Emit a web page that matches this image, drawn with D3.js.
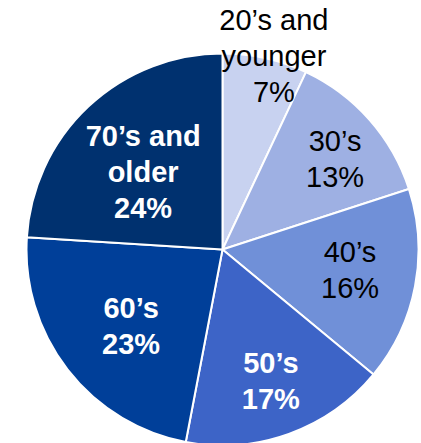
<!DOCTYPE html>
<html>
<head>
<meta charset="utf-8">
<script src="https://cdn.jsdelivr.net/npm/d3@7"></script>
<style>
  html, body { margin: 0; padding: 0; background: #fff; }
  svg { display: block; }
</style>
</head>
<body>
<svg id="chart" width="421" height="443"></svg>
<script>
const categories = ["20\u2019s and younger", "30\u2019s", "40\u2019s", "50\u2019s", "60\u2019s", "70\u2019s and older"];
const values = [7, 13, 16, 17, 23, 24];
const labelLines = [
  ["20\u2019s and", "younger", "7%"],
  ["30\u2019s", "13%"],
  ["40\u2019s", "16%"],
  ["50\u2019s", "17%"],
  ["60\u2019s", "23%"],
  ["70\u2019s and", "older", "24%"]
];
const colors = ["#c8d2f0", "#9eb0e3", "#7090d8", "#3d64c7", "#003f99", "#00316f"];
const textColors = ["#000", "#000", "#000", "#fff", "#fff", "#fff"];
const boldLabels = [false, false, false, true, true, true];
const labelRadiusFactor = [1.02, 0.737, 0.659, 0.715, 0.608, 0.566];
const labelAngleNudge = [2.3, 2.6, -1.7, -0.4, -2.1, -2.5];

const width = 421, height = 443;
const cx = 222.5, cy = 249.5, R = 196;
const svg = d3.select("#chart");
const g = svg.append("g").attr("transform", `translate(${cx},${cy})`);

const data = categories.map((c, i) => ({ name: c, value: values[i], i }));
const pie = d3.pie().value(d => d.value).sort(null);
const arcs = pie(data);
const arc = d3.arc().innerRadius(0).outerRadius(R);

g.selectAll("path.slice").data(arcs).join("path")
  .attr("class", "slice")
  .attr("d", arc)
  .attr("fill", d => colors[d.data.i])
  .attr("stroke", "#fff")
  .attr("stroke-width", 2)
  .attr("stroke-linejoin", "round");

const fontSize = 29, lineH = 36;
arcs.forEach(d => {
  const i = d.data.i;
  const r = R * labelRadiusFactor[i];
  const a = (d.startAngle + d.endAngle) / 2 + labelAngleNudge[i] * Math.PI / 180;
  const pos = [Math.sin(a) * r, -Math.cos(a) * r];
  const lines = labelLines[i];
  const n = lines.length;
  const t = g.append("text")
    .attr("text-anchor", "middle")
    .attr("font-family", "Liberation Sans, Arial, sans-serif")
    .attr("font-size", fontSize)
    .attr("font-weight", boldLabels[i] ? "bold" : "normal")
    .attr("fill", textColors[i]);
  lines.forEach((ln, k) => {
    t.append("tspan")
      .attr("x", pos[0])
      .attr("y", pos[1] + 10 + (k - (n - 1) / 2) * lineH)
      .text(ln);
  });
});
</script>
</body>
</html>
